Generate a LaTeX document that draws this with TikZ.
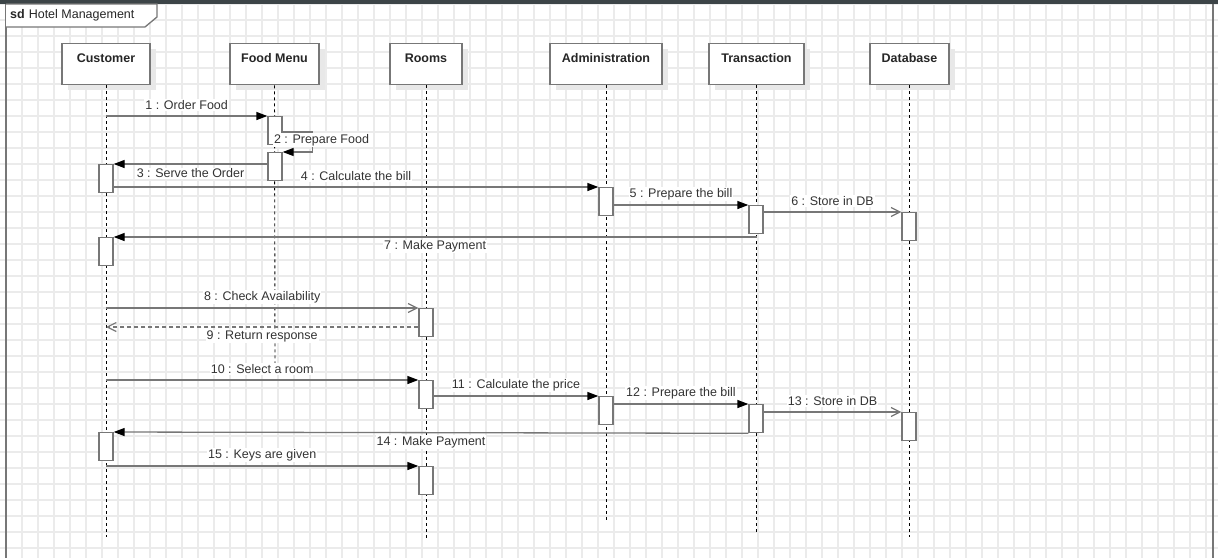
\documentclass[tikz,border=0pt]{standalone}
\usepackage{fontspec}
\setmainfont{Liberation Sans}
\usetikzlibrary{arrows.meta,shadows}
\definecolor{gridc}{HTML}{EBEBEB}
\definecolor{edge}{HTML}{777777}
\definecolor{band}{HTML}{3C4447}
\definecolor{txt}{HTML}{333333}
\definecolor{shad}{HTML}{E8E8E8}
\begin{document}
\begin{tikzpicture}[x=1pt,y=-1pt,
  lifebox/.style={draw=edge, line width=1.4pt, fill=white, minimum width=#1,
    inner xsep=0pt, inner ysep=4pt, text height=15pt, text depth=18pt,
    font=\fontsize{12.5}{14}\selectfont\bfseries, text=black!85, anchor=north,
    drop shadow={shadow xshift=6pt, shadow yshift=-5pt, fill=shad, opacity=1}},
  act/.style={draw=edge, line width=1.3pt, fill=white, minimum width=14pt,
    minimum height=28pt, inner sep=0pt, anchor=north},
  life/.style={black, line width=0.9pt, dash pattern=on 3pt off 3pt},
  msgf/.style={draw=edge, line width=1.3pt,
    -{Triangle[length=11pt,width=8pt,color=black,fill=black]}},
  msgo/.style={draw=edge, line width=1.3pt,
    -{Straight Barb[length=9pt,width=9pt,line width=1.2pt]}},
  msgr/.style={msgo, dash pattern=on 4pt off 3pt},
  lab/.style={font=\fontsize{12.5}{14}\selectfont, text=txt, fill=white, inner sep=1pt},
  labup/.style={lab, midway, yshift=11pt},
  labdn/.style={lab, midway, yshift=-9.5pt}
]
\useasboundingbox (0,0) rectangle (1218,558);
\fill[white] (0,0) rectangle (1218,558);
% grid
\foreach \gx in {6,22,...,1218} \draw[gridc, line width=1.3pt] (\gx,0) -- (\gx,558);
\foreach \gy in {4,20,...,558} \draw[gridc, line width=1.3pt] (0,\gy) -- (1218,\gy);
% frame
\fill[band] (0,0) rectangle (1218,4);
\draw[edge, line width=2pt] (6,4) -- (6,558);
\draw[edge, line width=2pt] (1213,4) -- (1213,558);
\draw[edge, line width=1.3pt, fill=white] (6,4) -- (157,4) -- (157,17) -- (145,27) -- (6,27);
\node[anchor=west, font=\fontsize{12.5}{14}\selectfont, text=black!85, inner sep=0pt] (sd) at (10,15) {\textbf{sd}\hspace{4pt}Hotel Management};

% lifeline heads
\node[lifebox=88pt]  (cust)  at (106,43)   {Customer};
\node[lifebox=89pt]  (food)  at (274.5,43) {Food Menu};
\node[lifebox=72pt]  (rooms) at (426,43)   {Rooms};
\node[lifebox=112pt] (admin) at (606,43)   {Administration};
\node[lifebox=95pt]  (trans) at (756.5,43) {Transaction};
\node[lifebox=79pt]  (db)    at (909.5,43) {Database};

% lifeline ends
\coordinate (custend)  at (106,537);
\coordinate (foodend)  at (275,363);
\coordinate (roomsend) at (426,538);
\coordinate (adminend) at (606,522);
\coordinate (transend) at (756.5,532);
\coordinate (dbend)    at (909.5,537);
\draw[life] (cust.south)  -- (custend);
\draw[life] (food.south)  -- (foodend);
\draw[life] (rooms.south) -- (roomsend);
\draw[life] (admin.south) -- (adminend);
\draw[life] (trans.south) -- (transend);
\draw[life] (db.south)    -- (dbend);

% activations
\node[act] (f1) at (275,116) {};
\node[act] (f2) at (275,152) {};
\node[act] (c1) at (106,164) {};
\node[act] (a1) at (606,187) {};
\node[act] (t1) at (756,205) {};
\node[act] (d1) at (909,212) {};
\node[act] (c2) at (106,237) {};
\node[act] (r1) at (426,308) {};
\node[act] (r2) at (426,380) {};
\node[act] (a2) at (606,396) {};
\node[act] (t2) at (756,404) {};
\node[act] (d2) at (909,412) {};
\node[act] (c3) at (106,432) {};
\node[act] (r3) at (426,466) {};

% messages
\draw[msgf] (cust.south |- f1.north) -- node[labup] (l1) {1 : Order Food} (f1.north west);
\draw[msgf] (f1.north east) ++(0,16) -- ++(30,0) |- (f2.north east);
\node[lab] (l2) at (321.5,140) {2 : Prepare Food};
\draw[msgf] (f2.west |- c1.north east) -- node[labdn] (l3) {3 : Serve the Order} (c1.north east);
\draw[msgf] (c1.east |- a1.north) -- node[labup] (l4) {4 : Calculate the bill} (a1.north west);
\draw[msgf] (a1.east |- t1.north) -- node[labup] (l5) {5 : Prepare the bill} (t1.north west);
\draw[msgo] (t1.east |- d1.north) -- node[labup] (l6) {6 : Store in DB} (d1.north west);
\draw[msgf] (trans.south |- c2.north east) -- node[labdn] (l7) {7 : Make Payment} (c2.north east);
\draw[msgo] (cust.south |- r1.north) -- node[labup] (l8) {8 : Check Availability} (r1.north west);
\coordinate (m9) at (106,327);
\draw[msgr] (r1.west |- m9) -- node[labdn] (l9) {9 : Return response} (m9);
\draw[msgf] (cust.south |- r2.north) -- node[labup] (l10) {10 : Select a room} (r2.north west);
\draw[msgf] (r2.east |- a2.north) -- node[labup] (l11) {11 : Calculate the price} (a2.north west);
\draw[msgf] (a2.east |- t2.north) -- node[labup] (l12) {12 : Prepare the bill} (t2.north west);
\draw[msgo] (t2.east |- d2.north) -- node[labup] (l13) {13 : Store in DB} (d2.north west);
\draw[msgf] (t2.south west) -- node[labdn] (l14) {14 : Make Payment} (c3.north east);
\draw[msgf] (cust.south |- r3.north) -- node[labup] (l15) {15 : Keys are given} (r3.north west);
\end{tikzpicture}
\end{document}
